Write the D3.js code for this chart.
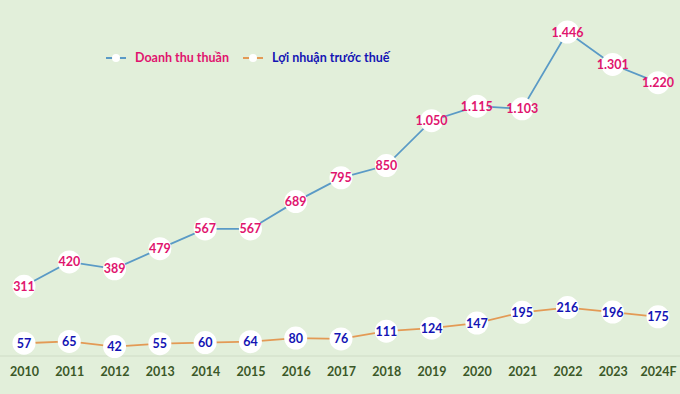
<!DOCTYPE html>
<html>
<head>
<meta charset="utf-8">
<script src="https://cdn.jsdelivr.net/npm/d3@7"></script>
<style>
  body { margin: 0; background: #e2efda; }
  svg { display: block; font-family: Lato, "Open Sans", sans-serif; }
</style>
</head>
<body>
<div id="chart"></div>
<script>
const years = ['2010', '2011', '2012', '2013', '2014', '2015', '2016', '2017', '2018', '2019', '2020', '2021', '2022', '2023', '2024F'];
const revenue = [311, 420, 389, 479, 567, 567, 689, 795, 850, 1050, 1115, 1103, 1446, 1301, 1220];
const profit = [57, 65, 42, 55, 60, 64, 80, 76, 111, 124, 147, 195, 216, 196, 175];

const width = 680;
const height = 394;

const series = [
  { name: 'Doanh thu thuần', values: revenue, line: '#5a9ac6', text: '#e0146e' },
  { name: 'Lợi nhuận trước thuế', values: profit, line: '#e39a55', text: '#1414b4' }
];

// vietnamese style thousands separator
const fmt = v => d3.format(',')(v).replace(/,/g, '.');

const svg = d3.select('#chart')
  .append('svg')
  .attr('width', width)
  .attr('height', height);

svg.append('rect')
  .attr('width', width)
  .attr('height', height)
  .attr('fill', '#e2efda');

const x = d3.scalePoint()
  .domain(years)
  .range([24, 658]);

const y = d3.scaleLinear()
  .domain([0, 1446])
  .range([356, 32]);

// baseline
svg.append('line')
  .attr('x1', 0)
  .attr('x2', width)
  .attr('y1', y(0))
  .attr('y2', y(0))
  .attr('stroke', '#cfdcc6')
  .attr('stroke-width', 1);

const xAxis = svg.append('g')
  .attr('transform', `translate(0,${y(0)})`)
  .call(d3.axisBottom(x).tickSize(0).tickPadding(11));

xAxis.select('.domain').remove();
xAxis.selectAll('text')
  .attr('fill', '#3b5828')
  .attr('font-size', 12.5)
  .attr('font-weight', 'bold')
  .attr('font-family', 'Lato, sans-serif');

const line = d3.line()
  .x((d, i) => x(years[i]))
  .y(d => y(d));

series.forEach(s => {
  svg.append('path')
    .datum(s.values)
    .attr('fill', 'none')
    .attr('stroke', s.line)
    .attr('stroke-width', 1.8)
    .attr('d', line);

  const pts = svg.append('g')
    .selectAll('g')
    .data(s.values)
    .enter()
    .append('g')
    .attr('transform', (d, i) => `translate(${x(years[i])},${y(d)})`);

  pts.append('circle')
    .attr('r', 11.5)
    .attr('fill', '#ffffff');

  pts.append('text')
    .attr('text-anchor', 'middle')
    .attr('dy', '0.36em')
    .attr('fill', s.text)
    .attr('font-size', 12.5)
    .attr('font-weight', 'bold')
    .text(d => fmt(d));
});

// legend
const legend = svg.append('g')
  .attr('transform', 'translate(106,58)');

const items = legend.selectAll('g')
  .data(series)
  .enter()
  .append('g')
  .attr('transform', (d, i) => `translate(${i * 137},0)`);

items.append('line')
  .attr('x1', 0)
  .attr('x2', 20)
  .attr('stroke', d => d.line)
  .attr('stroke-width', 2);

items.append('circle')
  .attr('cx', 10)
  .attr('r', 4)
  .attr('fill', '#ffffff');

items.append('text')
  .attr('x', 29)
  .attr('dy', '0.35em')
  .attr('fill', d => d.text)
  .attr('font-size', 12.5)
  .attr('font-weight', 'bold')
  .text(d => d.name);
</script>
</body>
</html>
